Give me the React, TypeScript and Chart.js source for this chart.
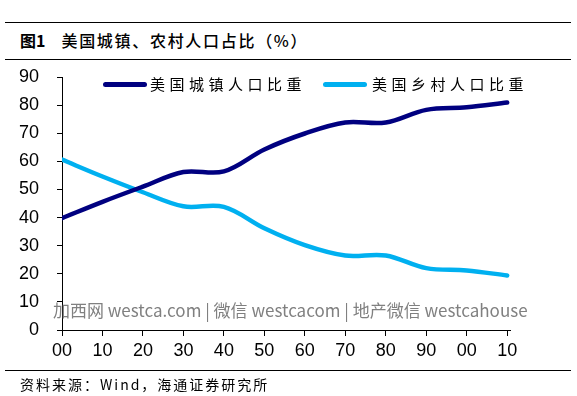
import React, { useEffect, useRef } from "react";
import { Chart, registerables } from "chart.js";

Chart.register(...registerables);

const years = [1900, 1910, 1920, 1930, 1940, 1950, 1960, 1970, 1980, 1990, 2000, 2010];
const tickLabels = ["00", "10", "20", "30", "40", "50", "60", "70", "80", "90", "00", "10"];
const urbanShare = [39.8, 45.6, 51.0, 56.2, 56.4, 64.2, 69.9, 73.8, 73.8, 78.3, 79.2, 80.9];
const ruralShare = [60.6, 54.6, 49.0, 44.0, 43.8, 36.2, 30.2, 26.5, 26.5, 22.0, 21.2, 19.4];
const seriesNames = ["美国城镇人口比重", "美国乡村人口比重"];
const seriesColors = ["#000080", "#00B0F0"];
const yTicks = [0, 10, 20, 30, 40, 50, 60, 70, 80, 90];

const CJK = '"Noto Sans CJK SC", "Liberation Sans", Arial, sans-serif';
const NUM = '"Liberation Sans", Arial, sans-serif';

export default function App() {
  const ref = useRef<HTMLCanvasElement | null>(null);

  useEffect(() => {
    document.body.style.margin = "0";
    const ctx = ref.current!;
    const chart = new Chart(ctx, {
      type: "line",
      data: {
        datasets: [urbanShare, ruralShare].map((vals, i) => ({
          label: seriesNames[i],
          data: years.map((y, j) => ({ x: y, y: vals[j] })),
          borderColor: seriesColors[i],
          backgroundColor: seriesColors[i],
          borderWidth: 4.5,
          pointRadius: 0,
          tension: 0.35,
          borderCapStyle: "round" as const,
          fill: false,
        })),
      },
      options: {
        animation: false,
        responsive: false,
        devicePixelRatio: 1,
        layout: { padding: { top: 77, right: 67, left: 0, bottom: 36 } },
        plugins: { legend: { display: false }, tooltip: { enabled: false } },
        scales: {
          x: {
            type: "linear",
            min: 1900,
            max: 2010.7,
            afterBuildTicks: (s: any) => {
              s.ticks = years.map((v) => ({ value: v }));
            },
            afterFit: (s: any) => {
              s.height = 30;
            },
            ticks: {
              autoSkip: false,
              maxRotation: 0,
              padding: 4,
              color: "#000",
              font: { family: NUM, size: 18 },
              callback: (v: any) => {
                const idx = years.indexOf(Number(v));
                return idx >= 0 ? tickLabels[idx] : "";
              },
            },
            grid: { display: true, drawOnChartArea: false, drawTicks: true, tickLength: 6, color: "#000" },
            border: { display: true, color: "#000", width: 1 },
          },
          y: {
            type: "linear",
            min: 0,
            max: 90,
            afterBuildTicks: (s: any) => {
              s.ticks = yTicks.map((v) => ({ value: v }));
            },
            afterFit: (s: any) => {
              s.width = 62;
            },
            ticks: {
              padding: 18,
              color: "#000",
              font: { family: NUM, size: 18 },
            },
            grid: { display: true, drawOnChartArea: false, drawTicks: true, tickLength: 5, color: "#000" },
            border: { display: true, color: "#000", width: 1 },
          },
        },
      },
    });
    return () => chart.destroy();
  }, []);

  const legendPos = [
    { line: 103, text: 150 },
    { line: 323, text: 372 },
  ];

  return (
    <div style={{ position: "absolute", left: 0, top: 0, width: 577, height: 396, background: "#fff", overflow: "hidden" }}>
      <div style={{ position: "absolute", left: 5, top: 22, width: 566, height: 1, background: "#000" }} />
      <div
        style={{
          position: "absolute",
          left: 20,
          top: 30,
          fontFamily: CJK,
          fontSize: 16,
          lineHeight: "20px",
          color: "#000",
          whiteSpace: "nowrap",
        }}
      >
        <span style={{ fontWeight: 700 }}>图1</span>
        <span style={{ fontWeight: 500, marginLeft: 16, letterSpacing: 1.7 }}>美国城镇、农村人口占比（%）</span>
      </div>
      <div style={{ position: "absolute", left: 5, top: 59, width: 566, height: 1, background: "#000" }} />
      <canvas ref={ref} width={577} height={396} style={{ position: "absolute", left: 0, top: 0 }} />
      {seriesNames.map((name, i) => (
        <React.Fragment key={name}>
          <div
            style={{
              position: "absolute",
              left: legendPos[i].line,
              top: 82,
              width: 44,
              height: 5,
              borderRadius: 3,
              background: seriesColors[i],
            }}
          />
          <div
            style={{
              position: "absolute",
              left: legendPos[i].text,
              top: 74,
              fontFamily: CJK,
              fontSize: 15,
              lineHeight: "20px",
              letterSpacing: 4.5,
              color: "#000",
              whiteSpace: "nowrap",
            }}
          >
            {name}
          </div>
        </React.Fragment>
      ))}
      <div
        style={{
          position: "absolute",
          left: 53,
          top: 298,
          fontFamily: CJK,
          fontSize: 17,
          lineHeight: "24px",
          color: "#808080",
          whiteSpace: "nowrap",
        }}
      >
        加西网 westca.com | 微信 westcacom | 地产微信 westcahouse
      </div>
      <div style={{ position: "absolute", left: 5, top: 370, width: 566, height: 1, background: "#000" }} />
      <div
        style={{
          position: "absolute",
          left: 20,
          top: 375,
          fontFamily: CJK,
          fontSize: 14,
          lineHeight: "18px",
          letterSpacing: 2,
          color: "#000",
          whiteSpace: "nowrap",
        }}
      >
        资料来源：Wind，海通证券研究所
      </div>
    </div>
  );
}
